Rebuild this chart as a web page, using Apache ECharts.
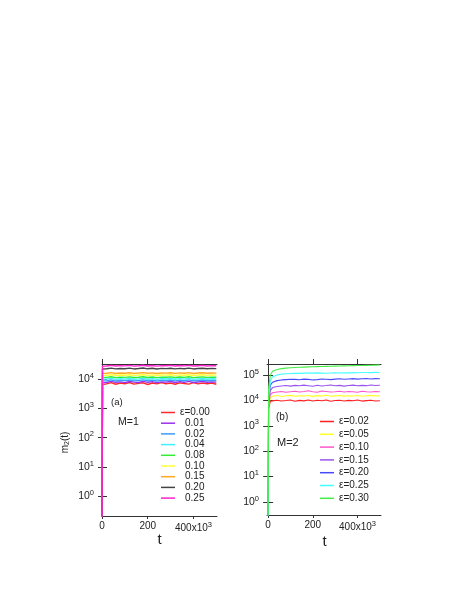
<!DOCTYPE html>
<html><head><meta charset="utf-8">
<script src="https://cdn.jsdelivr.net/npm/echarts@6/dist/echarts.min.js"></script>
<style>html,body{margin:0;padding:0;background:#fff}#c{width:463px;height:599px}</style>
</head><body><div id="c"></div>
<script>
// time points (shared by all series)
const tValues = [0, 2000, 10000, 20000, 40000, 60000, 80000, 100000, 120000, 140000, 160000, 180000, 200000, 220000, 240000, 260000, 280000, 300000, 320000, 340000, 360000, 380000, 400000, 420000, 440000, 460000, 480000, 500000];

// ---- panel (a), M=1 ----
const leftNames = ['ε=0.00', '0.01', '0.02', '0.04', '0.08', '0.10', '0.15', '0.20', '0.25'];
const a_eps000 = [0.01, 6400, 7300, 6800, 7500, 6600, 7200, 6900, 7600, 6700, 7100, 7400, 6500, 7300, 6800, 7500, 6900, 7200, 6600, 7400, 7000, 6700, 7500, 6800, 7200, 6900, 7300, 6600];
const a_eps001 = [0.01, 7500, 8100, 7600, 8300, 7700, 8000, 7500, 8200, 7800, 7600, 8300, 7700, 8100, 7500, 8000, 7800, 8200, 7600, 8100, 7700, 8300, 7600, 7900, 8200, 7700, 8000, 7800];
const a_eps002 = [0.01, 8600, 9100, 8700, 9300, 8500, 9000, 8800, 9200, 8600, 8900, 9300, 8700, 9100, 8500, 9000, 8800, 9200, 8600, 9100, 8700, 9300, 8600, 8900, 9200, 8700, 9000, 8800];
const a_eps004 = [0.01, 9800, 10300, 9900, 10500, 9700, 10200, 9900, 10400, 9800, 10100, 10500, 9800, 10300, 9700, 10200, 10000, 10400, 9800, 10300, 9900, 10500, 9700, 10100, 10400, 9800, 10200, 10000];
const a_eps008 = [0.01, 11200, 11800, 11300, 11900, 11100, 11600, 11300, 11800, 11200, 11500, 11900, 11200, 11700, 11100, 11600, 11400, 11800, 11200, 11700, 11300, 11900, 11100, 11500, 11800, 11200, 11600, 11400];
const a_eps010 = [0.01, 13300, 13900, 13400, 14000, 13200, 13700, 13400, 13900, 13300, 13600, 14000, 13300, 13800, 13200, 13700, 13500, 13900, 13300, 13800, 13400, 14000, 13200, 13600, 13900, 13300, 13700, 13500];
const a_eps015 = [0.01, 15500, 16200, 15600, 16400, 15400, 16000, 15700, 16300, 15500, 15900, 16400, 15600, 16100, 15400, 16000, 15800, 16300, 15500, 16100, 15700, 16400, 15400, 15900, 16300, 15600, 16000, 15800];
const a_eps020 = [0.01, 22000, 23200, 22300, 23500, 22100, 22800, 22400, 23400, 22000, 22700, 23600, 22200, 23100, 21900, 22900, 22500, 23300, 22100, 23000, 22400, 23500, 22000, 22800, 23300, 22200, 22900, 22600];
const a_eps025 = [0.01, 27500, 28800, 27800, 29200, 27600, 28500, 28000, 29000, 27500, 28300, 29300, 27800, 28700, 27400, 28600, 28100, 29000, 27700, 28800, 28000, 29200, 27600, 28400, 29000, 27800, 28600, 28200];
const leftValues = [a_eps000, a_eps001, a_eps002, a_eps004, a_eps008, a_eps010, a_eps015, a_eps020, a_eps025];

// ---- panel (b), M=2 ----
const rightNames = ['ε=0.02', 'ε=0.05', 'ε=0.10', 'ε=0.15', 'ε=0.20', 'ε=0.25', 'ε=0.30'];
const b_eps002 = [0.01, 5000, 9000, 9600, 10200, 9500, 9900, 10400, 9300, 10000, 9600, 10300, 9400, 10100, 9700, 10400, 9200, 9900, 10200, 9500, 10000, 9700, 10300, 9400, 9800, 10100, 9500, 9700];
const b_eps005 = [0.01, 6000, 13000, 14500, 15500, 14300, 15200, 15800, 14600, 15300, 14800, 15600, 14400, 15400, 15000, 15900, 14500, 15100, 15700, 14700, 15300, 14900, 15600, 14500, 15200, 15800, 14800, 15400];
const b_eps010 = [0.01, 7000, 17000, 20000, 21500, 22500, 21000, 22000, 23000, 21500, 22500, 24000, 22000, 21000, 23500, 22500, 21500, 22000, 23000, 21500, 22500, 22000, 21000, 23000, 22000, 21500, 22500, 22000];
const b_eps015 = [0.01, 8000, 25000, 32000, 35000, 37000, 38500, 36500, 39000, 37500, 40000, 38000, 36000, 39500, 37000, 38500, 40500, 37500, 39000, 36500, 38500, 40000, 37500, 39000, 38000, 40500, 38500, 39500];
const b_eps020 = [0.01, 9000, 40000, 52000, 60000, 64000, 66000, 68000, 67000, 65000, 69000, 67000, 64000, 66000, 70000, 68000, 66000, 69000, 71000, 68000, 70000, 72000, 69000, 71000, 73000, 70000, 72000, 71000];
const b_eps025 = [0.01, 10000, 60000, 85000, 100000, 108000, 112000, 115000, 117000, 116000, 118000, 120000, 118000, 121000, 119000, 117000, 120000, 122000, 120000, 123000, 121000, 124000, 122000, 125000, 126000, 124000, 127000, 126000];
const b_eps030 = [0.01, 30000, 100000, 140000, 165000, 178000, 186000, 192000, 197000, 201000, 205000, 208000, 211000, 214000, 217000, 219000, 221000, 224000, 226000, 228000, 230000, 233000, 235000, 237000, 239000, 241000, 244000, 246000];
const rightValues = [b_eps002, b_eps005, b_eps010, b_eps015, b_eps020, b_eps025, b_eps030];

// tick positions
const xTicks = [0, 200000, 400000];
const yTicksLeft = [1, 10, 100, 1000, 10000];
const yTicksRight = [1, 10, 100, 1000, 10000, 100000];

// styles
const leftColors = ['#ff2a2a', '#9a30f0', '#3a9cff', '#40f0ff', '#33ee33', '#ffff33', '#ffaa22', '#444444', '#ff22cc'];
const rightColors = ['#ff2020', '#ffff22', '#ff55cc', '#9955ee', '#4848ff', '#44ffff', '#44ee44'];
const FONT = 'Liberation Sans, Arial, sans-serif';
const AX = '#333';

const chart = echarts.init(document.getElementById('c'), null, {renderer: 'canvas'});

function xLab(v) {
  if (v === 0) return '0';
  if (v === 200000) return '200';
  if (v === 400000) return '400x10{s|3}';
  return '';
}
function yLab(v) {
  const e = Math.round(Math.log10(v));
  return '10{s|' + e + '}';
}
const supRich = {s: {fontSize: 7.5, fontFamily: FONT, color: '#222', padding: [0, 0, 7, 0]}};

function xAxisPair(gi, min, max) {
  return [
    {gridIndex: gi, type: 'value', position: 'bottom', min: min, max: max,
     axisLine: {show: true, lineStyle: {color: AX, width: 1}},
     axisTick: {show: true, length: 3, customValues: xTicks, lineStyle: {color: AX}},
     axisLabel: {show: true, customValues: xTicks, formatter: xLab, margin: 5, fontSize: 10, fontFamily: FONT, color: '#222', rich: supRich},
     splitLine: {show: false}},
    {gridIndex: gi, type: 'value', position: 'top', min: min, max: max,
     axisLine: {show: true, lineStyle: {color: AX, width: 1}},
     axisTick: {show: true, length: 5, customValues: xTicks, lineStyle: {color: AX}},
     axisLabel: {show: false}, splitLine: {show: false}}
  ];
}
function yAxisPair(gi, min, max, ticks, tl) {
  return [
    {gridIndex: gi, type: 'log', logBase: 10, position: 'left', min: min, max: max,
     axisLine: {show: true, lineStyle: {color: AX, width: 1}},
     axisTick: {show: true, length: tl, customValues: ticks, lineStyle: {color: AX}},
     axisLabel: {show: true, customValues: ticks, formatter: yLab, margin: 8, fontSize: 10.5, fontFamily: FONT, color: '#222', rich: supRich},
     splitLine: {show: false}, minorTick: {show: false}},
    {gridIndex: gi, type: 'log', logBase: 10, position: 'right', min: min, max: max,
     axisLine: {show: true, lineStyle: {color: AX, width: 1}},
     axisTick: {show: true, length: 5, customValues: ticks, lineStyle: {color: AX}},
     axisLabel: {show: false}, splitLine: {show: false}}
  ];
}

const series = [];
leftNames.forEach((n, i) => {
  series.push({type: 'line', name: n, xAxisIndex: 0, yAxisIndex: 0, symbol: 'none',
    data: tValues.map((t, k) => [t, leftValues[i][k]]),
    lineStyle: {color: leftColors[i], width: 1.4}, itemStyle: {color: leftColors[i]},
    animation: false, clip: true});
});
rightNames.forEach((n, i) => {
  series.push({type: 'line', name: n, xAxisIndex: 2, yAxisIndex: 2, symbol: 'none',
    data: tValues.map((t, k) => [t, rightValues[i][k]]),
    lineStyle: {color: rightColors[i], width: 1.1}, itemStyle: {color: rightColors[i]},
    animation: false, clip: true});
});

const option = {
  backgroundColor: '#fff',
  animation: false,
  grid: [
    {left: 102, top: 364, width: 115, height: 152, outerBoundsMode: 'none', containLabel: false},
    {left: 267, top: 364, width: 114, height: 151, outerBoundsMode: 'none', containLabel: false}
  ],
  xAxis: [].concat(xAxisPair(0, 0, 503000), xAxisPair(1, -5000, 505000)),
  yAxis: [].concat(yAxisPair(0, 0.214, 32400, yTicksLeft, 4), yAxisPair(1, 0.308, 271000, yTicksRight, 5)),
  legend: [
    {data: leftNames, orient: 'vertical', left: 161, top: 407.5, padding: 0,
     itemWidth: 14, itemHeight: 1.5, itemGap: 0.7, icon: 'rect',
     formatter: n => n.charAt(0) === 'ε' ? n : '{p|' + n + '}',
     textStyle: {fontSize: 10, lineHeight: 10, fontFamily: FONT, color: '#222',
       rich: {p: {fontSize: 10, lineHeight: 10, fontFamily: FONT, color: '#222', padding: [0, 0, 0, 5]}}},
     selectedMode: false},
    {data: rightNames, orient: 'vertical', left: 320, top: 415.5, padding: 0,
     itemWidth: 14, itemHeight: 1.5, itemGap: 0.8, icon: 'rect',
     textStyle: {fontSize: 10, lineHeight: 12, fontFamily: FONT, color: '#222'},
     selectedMode: false}
  ],
  graphic: [
    {type: 'text', x: 111, y: 402, style: {text: '(a)', font: '9.5px ' + FONT, fill: '#222', verticalAlign: 'middle'}},
    {type: 'text', x: 118, y: 422, style: {text: 'M=1', font: '10.5px ' + FONT, fill: '#222', verticalAlign: 'middle'}},
    {type: 'text', x: 276, y: 417, style: {text: '(b)', font: '10px ' + FONT, fill: '#222', verticalAlign: 'middle'}},
    {type: 'text', x: 277, y: 443, style: {text: 'M=2', font: '11px ' + FONT, fill: '#222', verticalAlign: 'middle'}},
    {type: 'text', x: 159.5, y: 540, style: {text: 't', font: '15px ' + FONT, fill: '#222', align: 'center', verticalAlign: 'middle'}},
    {type: 'text', x: 324.5, y: 542, style: {text: 't', font: '15px ' + FONT, fill: '#222', align: 'center', verticalAlign: 'middle'}},
    {type: 'text', x: 65, y: 442.5, rotation: Math.PI / 2,
     style: {text: 'm{s|2}(t)', font: '10px ' + FONT, fill: '#222', align: 'center', verticalAlign: 'middle',
       rich: {s: {fontSize: 7, fontFamily: FONT, fill: '#222', padding: [5, 0, 0, 0]}}}}
  ],
  series: series
};
chart.setOption(option);
</script></body></html>
